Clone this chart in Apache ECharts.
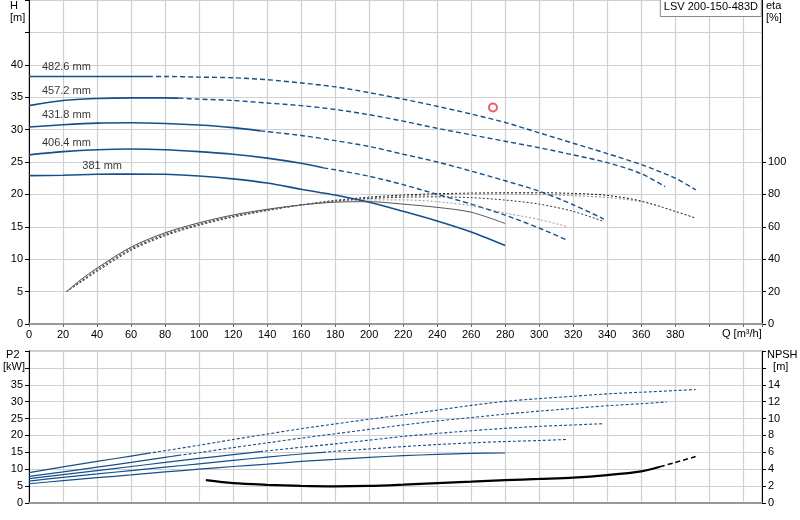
<!DOCTYPE html>
<html>
<head>
<meta charset="utf-8">
<script src="https://cdn.jsdelivr.net/npm/echarts@6/dist/echarts.min.js"></script>
<style>
html,body{margin:0;padding:0;background:#fff}
#chart{width:800px;height:520px}
</style>
</head>
<body>
<div id="chart"></div>
<script>
// impeller diameters, biggest first
var diameters = ['482.6 mm', '457.2 mm', '431.8 mm', '406.4 mm', '381 mm'];
// Q [m3/h] where each curve turns from solid to dashed
var solidUntil = [70, 88, 136, 173, 280];

// head H [m]
var qH482 = [0, 20, 40, 60, 70, 80, 100, 120, 140, 160, 180, 200, 220, 240, 260, 280, 300, 320, 340, 360, 380, 392];
var h482  = [38.2, 38.2, 38.2, 38.2, 38.2, 38.2, 38.1, 38.0, 37.7, 37.2, 36.6, 35.7, 34.7, 33.6, 32.4, 31.1, 29.5, 27.9, 26.3, 24.6, 22.5, 20.7];
var qH457 = [0, 20, 40, 60, 80, 88, 100, 120, 140, 160, 180, 200, 220, 240, 260, 280, 300, 320, 340, 360, 374];
var h457  = [33.7, 34.5, 34.8, 34.9, 34.9, 34.85, 34.7, 34.5, 34.1, 33.7, 33.1, 32.3, 31.3, 30.2, 29.2, 28.2, 27.2, 26.1, 24.9, 23.2, 21.2];
var qH432 = [0, 20, 40, 60, 80, 100, 120, 136, 160, 180, 200, 220, 240, 260, 280, 300, 320, 338];
var h432  = [30.4, 30.75, 31.0, 31.05, 30.95, 30.7, 30.3, 29.8, 29.1, 28.3, 27.4, 26.2, 25.0, 23.6, 22.1, 20.5, 18.4, 16.2];
var qH406 = [0, 20, 40, 60, 80, 100, 120, 140, 160, 173, 180, 200, 220, 240, 260, 280, 300, 316];
var h406  = [26.1, 26.6, 26.9, 27.0, 26.9, 26.6, 26.2, 25.6, 24.8, 24.1, 23.8, 22.8, 21.5, 20.0, 18.5, 16.8, 14.8, 13.0];
var qH381 = [0, 20, 40, 60, 80, 100, 120, 140, 160, 180, 200, 220, 240, 260, 280];
var h381  = [22.9, 22.95, 23.1, 23.15, 23.1, 22.85, 22.4, 21.75, 20.8, 19.9, 18.8, 17.4, 15.9, 14.2, 12.1];

// efficiency eta [%]
var qE482 = [22, 30, 40, 60, 80, 100, 120, 140, 160, 180, 200, 220, 240, 260, 280, 300, 320, 340, 360, 380, 392];
var e482  = [20, 25.5, 32.5, 45.5, 54.5, 61, 66, 70, 73.5, 76.3, 78.3, 79.6, 80.4, 80.8, 81, 81, 80.6, 79.4, 75.9, 69.5, 65.4];
var qE457 = [22, 30, 40, 60, 80, 100, 120, 140, 160, 180, 200, 220, 240, 260, 280, 300, 320, 340, 360, 374];
var e457  = [20, 25.8, 33, 46, 55, 61.3, 66.3, 70.2, 73.5, 76, 77.8, 79, 79.8, 80.3, 80.3, 80, 79.2, 78.1, 75.5, 71.6];
var qE432 = [22, 30, 40, 60, 80, 100, 120, 140, 160, 180, 200, 220, 240, 260, 280, 300, 320, 338];
var e432  = [20, 26, 33.5, 46.5, 55.3, 61.6, 66.6, 70.3, 73.4, 75.8, 77.4, 78.3, 78.5, 78, 76.5, 74, 69.5, 63.3];
var qE406 = [22, 30, 40, 60, 80, 100, 120, 140, 160, 180, 200, 220, 240, 260, 280, 300, 316];
var e406  = [20, 26.5, 34, 47, 55.8, 62, 67, 70.6, 73.5, 75.5, 76.5, 76.6, 75.5, 73, 68.5, 64.5, 60.2];
var qE381 = [22, 30, 40, 60, 80, 100, 120, 140, 160, 180, 200, 220, 240, 260, 280];
var e381  = [20, 27, 34.5, 47.5, 56.3, 62.5, 67.3, 70.8, 73.5, 75.2, 75.5, 74, 72, 69, 62];

// shaft power P2 [kW]
var qP482 = [0, 20, 40, 60, 70, 80, 100, 120, 140, 160, 180, 200, 220, 240, 260, 280, 300, 320, 340, 360, 380, 392];
var p482  = [9.0, 10.7, 12.3, 13.9, 14.7, 15.5, 17.1, 18.8, 20.4, 22.0, 23.4, 24.8, 26.1, 27.5, 28.9, 30.1, 30.9, 31.6, 32.3, 32.8, 33.3, 33.6];
var qP457 = [0, 20, 40, 60, 80, 88, 100, 120, 140, 160, 180, 200, 220, 240, 260, 280, 300, 320, 340, 360, 375];
var p457  = [7.9, 9.2, 10.6, 12.0, 13.5, 14.1, 14.9, 16.4, 17.8, 19.2, 20.5, 21.8, 23.1, 24.3, 25.3, 26.3, 27.2, 28.0, 28.8, 29.4, 29.9];
var qP432 = [0, 20, 40, 60, 80, 100, 120, 136, 160, 180, 200, 220, 240, 260, 280, 300, 320, 338];
var p432  = [7.2, 8.4, 9.6, 10.8, 12.0, 13.2, 14.3, 15.2, 16.5, 17.5, 18.6, 19.7, 20.6, 21.4, 22.1, 22.7, 23.1, 23.5];
var qP406 = [0, 20, 40, 60, 80, 100, 120, 140, 160, 173, 180, 200, 220, 240, 260, 280, 300, 316];
var p406  = [6.5, 7.6, 8.6, 9.6, 10.6, 11.6, 12.6, 13.6, 14.5, 15.0, 15.3, 16.0, 16.7, 17.3, 17.8, 18.2, 18.5, 18.8];
var qP381 = [0, 20, 40, 60, 80, 100, 120, 140, 160, 180, 200, 220, 240, 260, 280];
var p381  = [5.7, 6.6, 7.5, 8.3, 9.2, 10.0, 10.8, 11.5, 12.3, 12.9, 13.5, 14.0, 14.4, 14.7, 14.8];

// NPSH [m]
var qNpsh = [104, 120, 140, 160, 180, 200, 220, 240, 260, 280, 300, 320, 340, 360, 371, 380, 392];
var npsh  = [2.7, 2.35, 2.15, 2.02, 1.97, 2.02, 2.17, 2.35, 2.52, 2.7, 2.85, 3.0, 3.3, 3.75, 4.3, 4.8, 5.5];
var npshSolidUntil = 371;

// duty point and curve label anchors
var dutyPoint = [272.8, 33.4];
var labelQ = [22, 22, 22, 22, 43];
var labelH = [39.6, 35.9, 32.2, 28.0, 24.4];

var qTicks = {min: 0, max: 431, interval: 20};

var qH = [qH482, qH457, qH432, qH406, qH381];
var hH = [h482, h457, h432, h406, h381];
var qE = [qE482, qE457, qE432, qE406, qE381];
var eE = [e482, e457, e432, e406, e381];
var qP = [qP482, qP457, qP432, qP406, qP381];
var pP = [p482, p457, p432, p406, p381];

var blue = '#15508c';
var etaColors = ['#111', '#888', '#333', '#999', '#555'];
var font = 'Liberation Sans, Arial, sans-serif';

function pts(q, v, from, to) {
	var out = [];
	for (var i = 0; i < q.length; i++) {
		if (q[i] >= from && q[i] <= to) out.push([q[i], v[i]]);
	}
	return out;
}

var series = [];
for (var i = 0; i < diameters.length; i++) {
	var cut = solidUntil[i];
	// head
	series.push({type: 'line', xAxisIndex: 0, yAxisIndex: 0, symbol: 'none', smooth: 0.3,
		lineStyle: {color: blue, width: 1.6}, data: pts(qH[i], hH[i], 0, cut)});
	series.push({type: 'line', xAxisIndex: 0, yAxisIndex: 0, symbol: 'none', smooth: 0.3,
		lineStyle: {color: blue, width: 1.4, type: [5, 3]}, data: pts(qH[i], hH[i], cut, 9999)});
	// efficiency
	series.push({type: 'line', xAxisIndex: 0, yAxisIndex: 1, symbol: 'none', smooth: 0.3,
		lineStyle: {color: etaColors[i], width: 1, type: i == 4 ? 'solid' : [2, 2]},
		data: pts(qE[i], eE[i], 0, 9999)});
	// power
	series.push({type: 'line', xAxisIndex: 1, yAxisIndex: 2, symbol: 'none', smooth: 0.3,
		lineStyle: {color: blue, width: 1.2}, data: pts(qP[i], pP[i], 0, cut)});
	series.push({type: 'line', xAxisIndex: 1, yAxisIndex: 2, symbol: 'none', smooth: 0.3,
		lineStyle: {color: blue, width: 1.1, type: [3, 2]}, data: pts(qP[i], pP[i], cut, 9999)});
}
series.push({type: 'line', xAxisIndex: 1, yAxisIndex: 3, symbol: 'none', smooth: 0.3,
	lineStyle: {color: '#000', width: 2.2}, data: pts(qNpsh, npsh, 0, npshSolidUntil)});
series.push({type: 'line', xAxisIndex: 1, yAxisIndex: 3, symbol: 'none', smooth: 0.3,
	lineStyle: {color: '#000', width: 1.5, type: [5, 3]}, data: pts(qNpsh, npsh, npshSolidUntil, 9999)});
// diameter labels
series.push({type: 'scatter', xAxisIndex: 0, yAxisIndex: 0, symbolSize: 1,
	itemStyle: {color: 'transparent'},
	label: {show: true, position: 'inside', color: '#000', fontSize: 11, fontFamily: font,
		formatter: function (p) { return p.name; }},
	data: diameters.map(function (d, k) { return {name: d, value: [labelQ[k], labelH[k]]}; })});
// duty point
series.push({type: 'scatter', xAxisIndex: 0, yAxisIndex: 0, symbol: 'emptyCircle', symbolSize: 8,
	itemStyle: {color: '#e03a3e', borderWidth: 1}, data: [dutyPoint]});

function xAxis(grid, labels) {
	return {type: 'value', gridIndex: grid, min: qTicks.min, max: qTicks.max, interval: qTicks.interval,
		axisLine: {show: true, onZero: false, lineStyle: {color: '#999', width: 2}},
		axisTick: {show: labels, length: 3, lineStyle: {color: '#666'}},
		axisLabel: {show: labels, color: '#000', fontSize: 11, fontFamily: font, margin: 5,
			formatter: function (v) { return v <= 380 ? v : ''; }},
		splitLine: {show: true, lineStyle: {color: '#d0d0d0', width: 1.2}}};
}
function yAxis(grid, pos, max, step, lastLabel) {
	return {type: 'value', gridIndex: grid, position: pos, min: 0, max: max, interval: step,
		axisLine: {show: true, lineStyle: {color: '#000', width: 1}},
		axisTick: {show: true, length: 4, lineStyle: {color: '#000'}},
		axisLabel: {color: '#000', fontSize: 11, fontFamily: font, margin: 6,
			formatter: function (v) { return v <= lastLabel ? v : ''; }},
		splitLine: {show: pos == 'left', lineStyle: {color: '#d0d0d0', width: 1.2}}};
}

var etaAxis = yAxis(0, 'right', 200, 20, 100);
etaAxis.axisTick.customValues = [0, 20, 40, 60, 80, 100];
var npshAxis = yAxis(1, 'right', 18, 2, 14);

var chart = echarts.init(document.getElementById('chart'));
chart.setOption({
	animation: false,
	title: {text: 'LSV 200-150-483D', right: 38, top: -2, padding: [3, 4, 5, 4],
		backgroundColor: '#fff', borderColor: '#888', borderWidth: 1,
		textStyle: {fontSize: 11, fontWeight: 'normal', color: '#000', fontFamily: font}},
	grid: [
		{left: 29, right: 38, top: 0, height: 324, show: true, borderColor: '#999', borderWidth: 1},
		{left: 29, right: 38, top: 351, height: 152, show: true, borderColor: '#999', borderWidth: 1}
	],
	xAxis: [xAxis(0, true), xAxis(1, false)],
	yAxis: [yAxis(0, 'left', 50, 5, 40), etaAxis, yAxis(1, 'left', 45, 5, 35), npshAxis],
	graphic: [
		{type: 'text', left: 10, top: 0, style: {text: 'H\n[m]', fill: '#000', font: '11px ' + font, align: 'center', lineHeight: 12}},
		{type: 'text', left: 766, top: 0, style: {text: 'eta\n[%]', fill: '#000', font: '11px ' + font, align: 'center', lineHeight: 12}},
		{type: 'text', left: 722, top: 328, style: {text: 'Q [m³/h]', fill: '#000', font: '11px ' + font}},
		{type: 'text', left: 3, top: 349, style: {text: ' P2\n[kW]', fill: '#000', font: '11px ' + font, lineHeight: 12}},
		{type: 'text', left: 767, top: 349, style: {text: 'NPSH\n  [m]', fill: '#000', font: '11px ' + font, lineHeight: 12}}
	],
	series: series
});
</script>
</body>
</html>
